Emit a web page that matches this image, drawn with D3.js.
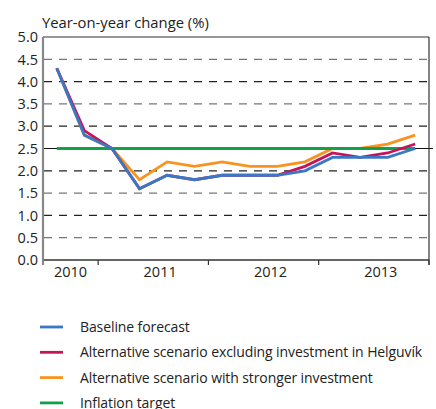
<!DOCTYPE html>
<html>
<head>
<meta charset="utf-8">
<script src="https://cdn.jsdelivr.net/npm/d3@7.9.0/dist/d3.min.js"></script>
<style>
  body { margin: 0; background: #fff; }
  text { font-family: "Open Sans", sans-serif; fill: #222; }
</style>
</head>
<body>
<svg id="chart" width="436" height="409"></svg>
<script>
// quarters from 2010 Q3 to 2013 Q4
const quarters = ['2010Q3', '2010Q4', '2011Q1', '2011Q2', '2011Q3', '2011Q4',
  '2012Q1', '2012Q2', '2012Q3', '2012Q4', '2013Q1', '2013Q2', '2013Q3', '2013Q4'];
const years = ['2010', '2011', '2012', '2013'];
const yTicks = [0, 0.5, 1, 1.5, 2, 2.5, 3, 3.5, 4, 4.5, 5];

const baseline = [4.3, 2.8, 2.5, 1.6, 1.9, 1.8, 1.9, 1.9, 1.9, 2.0, 2.3, 2.3, 2.3, 2.5];
const noHelguvik = [4.3, 2.9, 2.5, 1.6, 1.9, 1.8, 1.9, 1.9, 1.9, 2.1, 2.4, 2.3, 2.4, 2.6];
const stronger = [4.3, 2.8, 2.5, 1.8, 2.2, 2.1, 2.2, 2.1, 2.1, 2.2, 2.5, 2.5, 2.6, 2.8];
const target = [2.5, 2.5, 2.5, 2.5, 2.5, 2.5, 2.5, 2.5, 2.5, 2.5, 2.5, 2.5, 2.5, 2.5];

const series = [
  { name: 'Baseline forecast', values: baseline, color: '#3a78c6' },
  { name: 'Alternative scenario excluding investment in Helguvík', values: noHelguvik, color: '#c4145a' },
  { name: 'Alternative scenario with stronger investment', values: stronger, color: '#f7931e' },
  { name: 'Inflation target', values: target, color: '#12a14b' }
];
// drawing order (back to front)
const drawOrder = [2, 3, 1, 0];

const svg = d3.select('#chart');
const plotL = 43, plotR = 429, plotT = 37, plotB = 260;

const x = d3.scaleLinear().domain([0, quarters.length]).range([plotL, plotR]);
const y = d3.scaleLinear().domain([0, 5]).range([plotB, plotT]);

// gridlines
yTicks.forEach(t => {
  if (t === 0 || t === 5) return;
  if (t === 2.5) {
    svg.append('line')
      .attr('x1', plotL).attr('x2', plotR + 4)
      .attr('y1', y(t)).attr('y2', y(t))
      .attr('stroke', '#111').attr('stroke-width', 1.2);
    return;
  }
  svg.append('line')
    .attr('x1', plotL + 1).attr('x2', plotR)
    .attr('y1', y(t)).attr('y2', y(t))
    .attr('stroke', Number.isInteger(t) ? '#222' : '#777')
    .attr('stroke-width', 1.3)
    .attr('stroke-dasharray', '8,7');
});

// frame
svg.append('line').attr('x1', plotL).attr('x2', plotR).attr('y1', plotT).attr('y2', plotT)
  .attr('stroke', '#333').attr('stroke-width', 1.2);
svg.append('line').attr('x1', plotR).attr('x2', plotR).attr('y1', plotT).attr('y2', plotB + 5)
  .attr('stroke', '#333').attr('stroke-width', 1.2);

// x axis with year boundary ticks
const yearStart = quarters.map((q, i) => i).filter(i => i === 0 || quarters[i].endsWith('Q1'));
yearStart.push(quarters.length);
svg.append('line').attr('x1', plotL).attr('x2', plotR).attr('y1', plotB).attr('y2', plotB)
  .attr('stroke', '#333').attr('stroke-width', 1.3);
yearStart.forEach(i => {
  svg.append('line').attr('x1', x(i)).attr('x2', x(i)).attr('y1', plotB).attr('y2', plotB + 5)
    .attr('stroke', '#333').attr('stroke-width', 1.2);
});
years.forEach((yr, k) => {
  const a = yearStart[k], b = yearStart[k + 1];
  const mid = (a + b) / 2 + (b - a === 4 ? 0.25 : 0);
  svg.append('text')
    .attr('x', x(mid)).attr('y', plotB + 17)
    .attr('text-anchor', 'middle')
    .attr('font-size', 14.5)
    .text(yr);
});

// y axis
svg.append('line').attr('x1', plotL).attr('x2', plotL).attr('y1', plotT).attr('y2', plotB + 5)
  .attr('stroke', '#888').attr('stroke-width', 2.2);
yTicks.forEach(t => {
  svg.append('text')
    .attr('x', 38).attr('y', y(t))
    .attr('dy', '0.36em')
    .attr('text-anchor', 'end')
    .attr('font-size', 14.5)
    .text(t.toFixed(1));
});
svg.append('text').attr('x', 42).attr('y', 28).attr('font-size', 14.8)
  .text('Year-on-year change (%)');

// series lines
const line = d3.line().x((d, i) => x(i + 0.5)).y(d => y(d));
drawOrder.forEach(k => {
  svg.append('path')
    .attr('d', line(series[k].values))
    .attr('fill', 'none')
    .attr('stroke', series[k].color)
    .attr('stroke-width', 2.8)
    .attr('stroke-linejoin', 'miter');
});

// legend
series.forEach((s, i) => {
  const ly = 327 + i * 25.3;
  svg.append('line').attr('x1', 40).attr('x2', 63).attr('y1', ly).attr('y2', ly)
    .attr('stroke', s.color).attr('stroke-width', 2.8);
  svg.append('text').attr('x', 80).attr('y', ly).attr('dy', '0.35em')
    .attr('font-size', 14)
    .attr('letter-spacing', -0.1)
    .text(s.name);
});
</script>
</body>
</html>
